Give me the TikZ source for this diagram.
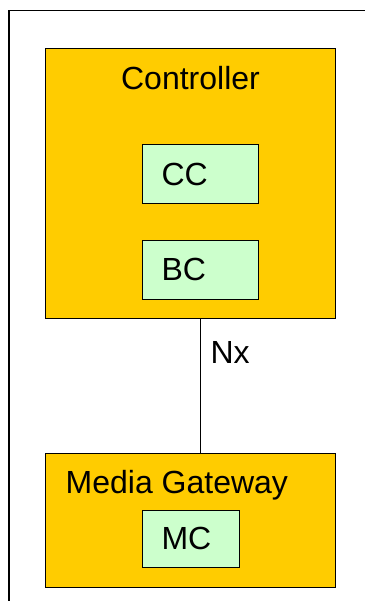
\documentclass[tikz,border=0pt]{standalone}
\usepackage{fontspec}
\setmainfont{Liberation Sans}
\usetikzlibrary{positioning}
\definecolor{boxorange}{HTML}{FFCC00}
\definecolor{boxgreen}{HTML}{CCFFCC}
\tikzset{
  outerbox/.style={draw, line width=1bp, fill=boxorange, inner sep=0pt},
  innerbox/.style={draw, line width=1bp, fill=boxgreen, inner xsep=19.5bp, inner ysep=0pt, align=left},
  title/.style={inner sep=0pt, font=\fontsize{32bp}{38bp}\selectfont}
}
\begin{document}
\begin{tikzpicture}[x=1bp, y=-1bp, font=\fontsize{32bp}{38bp}\selectfont]
\useasboundingbox (0,0) rectangle (364,601);
\draw[line width=1.2bp] (9,640) -- (9,10.6) -- (400,10.6);
\node (ctrl) [outerbox, minimum width=289bp, minimum height=269bp] at (190.5,183.5) {};
\node (ctrltitle) [title, anchor=base] at (190.5,90) {Controller};
\node (cc) [innerbox, text width=77bp, minimum height=58bp] at (200,174) {CC};
\node (bc) [innerbox, text width=77bp, minimum height=59bp] at (200,269.5) {BC};
\node (mgw) [outerbox, minimum width=289bp, minimum height=134bp] at (190.5,520) {};
\node (mgwtitle) [title, anchor=base west] at (65.5,493) {Media Gateway};
\node (mc) [innerbox, text width=58bp, minimum height=57bp] at (190.5,538.5) {MC};
\draw[line width=1bp] (ctrl.south -| cc) -- (mgw.north -| cc)
  node[pos=0.25, title, anchor=base west, xshift=10bp, yshift=-11bp] (nx) {Nx};
\end{tikzpicture}
\end{document}
